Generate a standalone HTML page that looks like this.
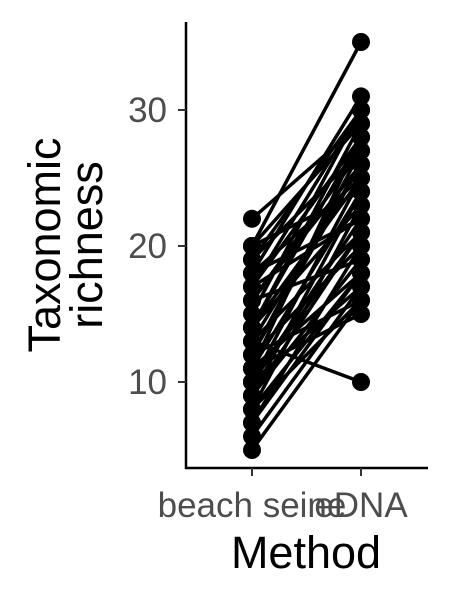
<!DOCTYPE html>
<html><head><meta charset="utf-8"><style>
body{margin:0;background:#fff}
text{font-family:"Liberation Sans",sans-serif}
</style></head><body>
<svg width="450" height="600" id="c">
<line x1="186" y1="22" x2="186" y2="469" stroke="#000" stroke-width="2.5"/>
<line x1="185" y1="468" x2="428" y2="468" stroke="#000" stroke-width="2.5"/>
<g id="ticks"></g>
<g id="lines"></g>
<g id="pts"></g>
<text x="306" y="568" font-size="45" text-anchor="middle" fill="#000">Method</text>
<text transform="translate(60,245) rotate(-90)" font-size="45" text-anchor="middle" fill="#000"><tspan x="0" dy="0">Taxonomic</tspan><tspan x="0" dy="42">richness</tspan></text>
</svg>
<script>
const categories=["beach seine","eDNA"];
const yTicks=[10,20,30];
const seineVals=[22,20,20,19,19,18,18,17,17,16,16,14,14,13,13,12,12,12,11,11,11,10,10,10,9,9,8,8,7,7,6,5,13,15,14,12,11,9,18,16,20,17,14,10,8];
const ednaVals=[29,35,24,30,27,31,25,28,22,26,19,28,23,10,21,27,20,16,24,18,15,25,17,22,21,19,23,16,20,18,17,16,26,30,29,26,28,24,22,27,29,30,25,21,18];
const x=i=>252+i*109;
const y=v=>382-(v-10)*13.6;
const ns="http://www.w3.org/2000/svg";
const T=document.getElementById('ticks'),L=document.getElementById('lines'),P=document.getElementById('pts');
function mk(tag,a,p){const e=document.createElementNS(ns,tag);for(const k in a)e.setAttribute(k,a[k]);p.appendChild(e);return e;}
yTicks.forEach(v=>{
 const t=mk('line',{x1:178,x2:186,y1:y(v),y2:y(v),stroke:'#333','stroke-width':2},T);
 
 
 const l=mk('text',{x:167,y:y(v)+12,'font-size':35,'text-anchor':'end',fill:'#4d4d4d'},T);l.textContent=v;
 
 
});
categories.forEach((c,i)=>{
 const t=mk('line',{x1:x(i),x2:x(i),y1:468,y2:476,stroke:'#333','stroke-width':2},T);
 
 
 const l=mk('text',{x:x(i),y:517,'font-size':35,'text-anchor':'middle',fill:'#4d4d4d'},T);l.textContent=c;
 
 
});
seineVals.forEach((s,k)=>{
 const e=ednaVals[k];
 const ln=mk('line',{x1:x(0),y1:y(s),x2:x(1),y2:y(e),stroke:'#000','stroke-width':3.5},L);
 
 
 [[0,s],[1,e]].forEach(([i,v])=>{
  const c=mk('circle',{cx:x(i),cy:y(v),r:9,fill:'#000'},P);
  
  
 });
});
</script>
</body></html>
